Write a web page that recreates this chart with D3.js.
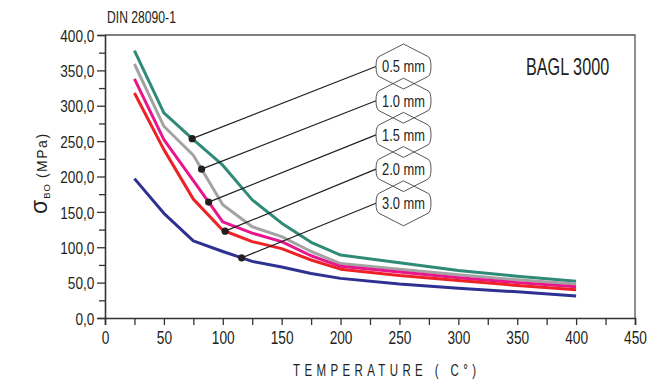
<!DOCTYPE html>
<html><head><meta charset="utf-8">
<script src="https://cdn.jsdelivr.net/npm/d3@7"></script>
<style>
html,body{margin:0;padding:0;background:#fff;}
svg text{font-family:"Liberation Sans",Arial,sans-serif;fill:#231f20;}
</style></head>
<body><svg id="c" width="670" height="382"></svg>
<script>
const temps = [25,50,75,100,125,150,175,200,250,300,350,400];
const s05 = [378,290,252,216,167,134,107,89,78,67,59,52];
const s10 = [359,271,230,160,129,115,94,77,69,61,54,48];
const s15 = [338,252,194,136,120,108,88,73,65,57,50,44];
const s20 = [318,238,168,124,108,98,82,69,60,53,46,40];
const s30 = [197,148,109,94,80,72,63,56,48,42,37,31];
const seriesNames = ["0.5 mm","1.0 mm","1.5 mm","2.0 mm","3.0 mm"];
const seriesColors = ["#2f8a78","#a3a3a3","#e8168c","#ec2227","#2e3192"];
const dotTemps = [74,82,88,102,116];
const xTicks = [0,50,100,150,200,250,300,350,400,450];
const yTicks = [0,50,100,150,200,250,300,350,400];

const allSeries = [s05,s10,s15,s20,s30];
const svg = d3.select("#c");
const L=105,R=635,T=35,B=318;
const x = d3.scaleLinear().domain([0,450]).range([L,R]);
const y = d3.scaleLinear().domain([0,400]).range([B,T]);

function squeeze(sel, sx){
  sel.each(function(){
    const el = d3.select(this);
    const ox = +(el.attr("x")||0);
    el.attr("x", ox/sx).attr("transform", `scale(${sx},1)`);
  });
}

svg.append("path").attr("d",`M${L},${T}H${R}V${B}`).attr("fill","none").attr("stroke","#555").attr("stroke-width",1.3);

const yAxis = d3.axisLeft(y).tickValues(d3.range(0,401,25)).tickSize(7).tickPadding(3.7)
  .tickFormat(d=> yTicks.includes(d) ? d3.format(".1f")(d).replace(".",",") : "");
const gy = svg.append("g").attr("transform",`translate(${L},0)`).call(yAxis);
gy.select(".domain").attr("stroke","#333").attr("stroke-width",1.6);
gy.selectAll(".tick line").attr("stroke","#333").attr("stroke-width",1.3)
  .attr("x2",d=> d%50===0 ? -8 : -6);
gy.selectAll(".tick text").attr("font-size",17).attr("fill","#231f20").attr("dy","0.36em");
squeeze(gy.selectAll(".tick text"), 0.8);

const xAxis = d3.axisBottom(x).tickValues(d3.range(0,451,25)).tickSize(7).tickPadding(6)
  .tickFormat(d=> xTicks.includes(d) ? String(d) : "");
const gx = svg.append("g").attr("transform",`translate(0,${B})`).call(xAxis);
gx.select(".domain").attr("stroke","#333").attr("stroke-width",1.6);
gx.selectAll(".tick line").attr("stroke","#333").attr("stroke-width",1.3);
gx.selectAll(".tick text").attr("font-size",18.5).attr("fill","#231f20");
squeeze(gx.selectAll(".tick text"), 0.74);
svg.selectAll("g").attr("font-family",null);

const line = d3.line().x((d,i)=>x(temps[i])).y(d=>y(d));
allSeries.forEach((s,i)=>{
  svg.append("path").datum(s).attr("d",line).attr("fill","none")
    .attr("stroke",seriesColors[i]).attr("stroke-width",3).attr("stroke-linejoin","round");
});

const bx = 403.5, bw = 26.5, bh = 10.5, ba = 12;
const labelY = d3.scaleLinear().domain([0,4]).range([66.5,203.3]);
function badge(cx,cy){
  return `M${cx-bw+3},${cy-bh} L${cx},${cy-bh-ba} L${cx+bw-3},${cy-bh}`+
    ` Q${cx+bw+1},${cy-bh+1} ${cx+bw+1},${cy} Q${cx+bw+1},${cy+bh-1} ${cx+bw-3},${cy+bh}`+
    ` L${cx},${cy+bh+ba} L${cx-bw+3},${cy+bh}`+
    ` Q${cx-bw-1},${cy+bh-1} ${cx-bw-1},${cy} Q${cx-bw-1},${cy-bh+1} ${cx-bw+3},${cy-bh}Z`;
}
allSeries.forEach((s,i)=>{
  const dt = dotTemps[i];
  const dv = d3.scaleLinear().domain(temps).range(s)(dt);
  const cy = labelY(i);
  svg.append("line").attr("x1",x(dt)).attr("y1",y(dv)).attr("x2",bx-bw-1).attr("y2",cy)
    .attr("stroke","#231f20").attr("stroke-width",1.2);
  svg.append("circle").attr("cx",x(dt)).attr("cy",y(dv)).attr("r",3.6).attr("fill","#231f20");
  svg.append("path").attr("d",badge(bx,cy)).attr("fill","none").attr("stroke","#444").attr("stroke-width",0.9);
  const t = svg.append("text").attr("x",bx).attr("y",cy+6).attr("text-anchor","middle")
    .attr("font-size",16.5).text(seriesNames[i]);
  squeeze(t, 0.78);
});

squeeze(svg.append("text").attr("x",107).attr("y",23).attr("font-size",16).text("DIN 28090-1"), 0.76);
squeeze(svg.append("text").attr("x",526).attr("y",75).attr("font-size",23.5).text("BAGL 3000"), 0.69);
squeeze(svg.append("text").attr("x",384.5).attr("y",376).attr("text-anchor","middle")
  .attr("font-size",16).attr("textLength",183/0.72).attr("lengthAdjust","spacing")
  .text("TEMPERATURE ( C°)"), 0.72);

const yl = svg.append("text").attr("transform","translate(47,214) rotate(-90)");
yl.append("tspan").attr("font-size",23).text("σ");
yl.append("tspan").attr("font-size",9.5).attr("dy",3).attr("dx",1).attr("letter-spacing",1).text("BO");
yl.append("tspan").attr("font-size",14).attr("dy",-3).attr("dx",5).attr("letter-spacing",1.5).text("(MPa)");
</script></body></html>
